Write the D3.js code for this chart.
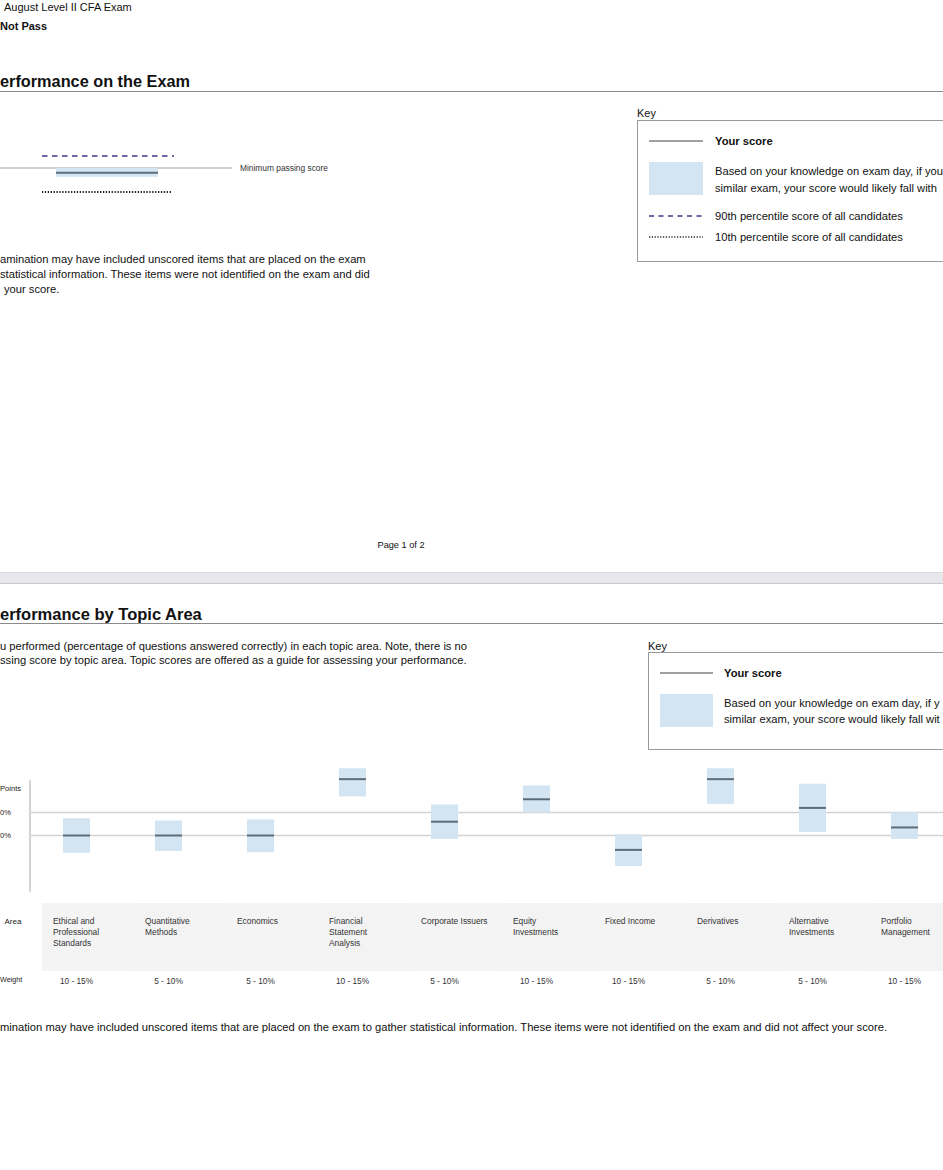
<!DOCTYPE html>
<html><head><meta charset="utf-8">
<script src="https://cdn.jsdelivr.net/npm/d3@7"></script>
<style>
html,body{margin:0;padding:0;background:#fff;}
svg{display:block;font-family:"Liberation Sans",Arial,Helvetica,sans-serif;}
</style></head>
<body>
<script>
// ---- Data ----
const topics = ["Ethical and|Professional|Standards","Quantitative|Methods","Economics","Financial|Statement|Analysis","Corporate Issuers","Equity|Investments","Fixed Income","Derivatives","Alternative|Investments","Portfolio|Management"];
const weights = ["10 - 15%","5 - 10%","5 - 10%","10 - 15%","5 - 10%","10 - 15%","10 - 15%","5 - 10%","5 - 10%","10 - 15%"];
const scores = [50, 50, 50, 99, 62, 81.5, 37.5, 99, 74, 57];
const rangeLow = [35, 36.5, 35.5, 84, 47, 70, 23.5, 77.5, 53, 47];
const rangeHigh = [65, 63, 64, 108.5, 77, 93.5, 51, 108.5, 95, 70];
const gridTicks = [70, 50];
const gridLabels = ["0%", "0%"];
const maxLabelValue = 91;
// top (overall exam) chart values, relative scale
const overall = {p90: 70, minPass: 55, score: 49, scoreLow: 44, scoreHigh: 55, p10: 25};

const W = 943, H = 1170;
const svg = d3.select("body").append("svg").attr("width", W).attr("height", H);
svg.append("rect").attr("width", W).attr("height", H).attr("fill", "#fff");

const txt = (x, y, s, size, opts = {}) => svg.append("text").attr("x", x).attr("y", y)
  .attr("font-size", size).attr("fill", opts.fill || "#111")
  .attr("font-weight", opts.bold ? "bold" : null)
  .attr("text-anchor", opts.anchor || "start").text(s);

// ---- Header ----
txt(4, 11, "August Level II CFA Exam", 11);
txt(0, 30, "Not Pass", 11, {bold: true});
txt(0, 87, "erformance on the Exam", 16.3, {bold: true});
svg.append("line").attr("x1", 0).attr("x2", W).attr("y1", 91.5).attr("y2", 91.5).attr("stroke", "#8a8a8a").attr("stroke-width", 1);

// ---- Overall chart ----
const ty = d3.scaleLinear().domain([0, 100]).range([212, 132]);
svg.append("line").attr("x1", 0).attr("x2", 232).attr("y1", ty(overall.minPass)).attr("y2", ty(overall.minPass))
  .attr("stroke", "#a0a0a0").attr("stroke-width", 1.2);
txt(240, ty(overall.minPass) + 2.5, "Minimum passing score", 8.4, {fill: "#333"});
svg.append("rect").attr("x", 56).attr("width", 102).attr("y", ty(overall.scoreHigh)).attr("height", ty(overall.scoreLow) - ty(overall.scoreHigh))
  .attr("fill", "#d3e5f3");
svg.append("line").attr("x1", 56).attr("x2", 158).attr("y1", ty(overall.score)).attr("y2", ty(overall.score))
  .attr("stroke", "#5f6b77").attr("stroke-width", 2);
svg.append("line").attr("x1", 42).attr("x2", 174).attr("y1", ty(overall.p90)).attr("y2", ty(overall.p90))
  .attr("stroke", "#6b6aa6").attr("stroke-width", 2).attr("stroke-dasharray", "5.5,4.5");
svg.append("line").attr("x1", 42).attr("x2", 172).attr("y1", ty(overall.p10)).attr("y2", ty(overall.p10))
  .attr("stroke", "#222").attr("stroke-width", 1.8).attr("stroke-dasharray", "1.3,1.6");

// ---- Key 1 ----
txt(637, 117, "Key", 11);
svg.append("rect").attr("x", 637.5).attr("y", 120.5).attr("width", 400).attr("height", 141).attr("fill", "none").attr("stroke", "#9a9a9a");
svg.append("line").attr("x1", 649).attr("x2", 703).attr("y1", 141).attr("y2", 141).attr("stroke", "#808080").attr("stroke-width", 1.5);
txt(715, 145, "Your score", 11.2, {bold: true});
svg.append("rect").attr("x", 649).attr("y", 162).attr("width", 54).attr("height", 33).attr("fill", "#d3e5f3");
txt(715, 175, "Based on your knowledge on exam day, if you", 11.2);
txt(715, 192, "similar exam, your score would likely fall with", 11.2);
svg.append("line").attr("x1", 649).attr("x2", 702).attr("y1", 216).attr("y2", 216).attr("stroke", "#6b6aa6").attr("stroke-width", 2).attr("stroke-dasharray", "5,4.5");
txt(715, 220, "90th percentile score of all candidates", 11.2);
svg.append("line").attr("x1", 649).attr("x2", 703).attr("y1", 237).attr("y2", 237).attr("stroke", "#222").attr("stroke-width", 1.6).attr("stroke-dasharray", "1.2,1.6");
txt(715, 241, "10th percentile score of all candidates", 11.2);

// ---- Paragraph 1 ----
txt(0, 263, "amination may have included unscored items that are placed on the exam", 11.2);
txt(0, 278, "statistical information. These items were not identified on the exam and did", 11.2);
txt(4, 293, "your score.", 11.2);

// ---- Page footer & divider ----
txt(401, 548, "Page 1 of 2", 9.2, {anchor: "middle"});
svg.append("rect").attr("x", 0).attr("y", 573).attr("width", W).attr("height", 11).attr("fill", "#e8e8ec");
svg.append("line").attr("x1", 0).attr("x2", W).attr("y1", 572.5).attr("y2", 572.5).attr("stroke", "#dcdce0");
svg.append("line").attr("x1", 0).attr("x2", W).attr("y1", 583.5).attr("y2", 583.5).attr("stroke", "#c9c9cd");

// ---- Section 2 header ----
txt(0, 620, "erformance by Topic Area", 16.5, {bold: true});
svg.append("line").attr("x1", 0).attr("x2", W).attr("y1", 623.5).attr("y2", 623.5).attr("stroke", "#8a8a8a").attr("stroke-width", 1);
txt(0, 650, "u performed (percentage of questions answered correctly) in each topic area. Note, there is no", 11.2);
txt(0, 664, "ssing score by topic area. Topic scores are offered as a guide for assessing your performance.", 11.2);

// ---- Key 2 ----
txt(648, 650, "Key", 11);
svg.append("rect").attr("x", 648.5).attr("y", 652.5).attr("width", 400).attr("height", 97).attr("fill", "none").attr("stroke", "#9a9a9a");
svg.append("line").attr("x1", 660).attr("x2", 713).attr("y1", 673).attr("y2", 673).attr("stroke", "#808080").attr("stroke-width", 1.5);
txt(724, 677, "Your score", 11.2, {bold: true});
svg.append("rect").attr("x", 660).attr("y", 694).attr("width", 53).attr("height", 33).attr("fill", "#d3e5f3");
txt(724, 707, "Based on your knowledge on exam day, if y", 11.2);
txt(724, 723, "similar exam, your score would likely fall wit", 11.2);

// ---- Topic chart ----
const x = d3.scaleBand().domain(d3.range(topics.length)).range([30.5, 950.5]).padding(0);
const y = d3.scaleLinear().domain([0, 100]).range([893, 778]);
const boxW = 27;

// axis line
svg.append("line").attr("x1", 30).attr("x2", 30).attr("y1", y(98)).attr("y2", y(1)).attr("stroke", "#b5b5b5").attr("stroke-width", 1.2);
// grid lines
svg.selectAll(".grid").data(gridTicks).enter().append("line")
  .attr("x1", 30).attr("x2", W).attr("y1", d => y(d)).attr("y2", d => y(d))
  .attr("stroke", "#d2d2d2").attr("stroke-width", 1.5);
svg.selectAll(".glab").data(gridTicks).enter().append("text")
  .attr("x", 0).attr("y", d => y(d) + 2.8).attr("font-size", 7.6).attr("fill", "#222")
  .text((d, i) => gridLabels[i]);
svg.append("text").attr("x", 0).attr("y", y(maxLabelValue) + 2.8).attr("font-size", 7.6).attr("fill", "#222").text("Points");

// boxes
const cx = i => x(i) + x.bandwidth() / 2;
svg.selectAll(".rng").data(scores).enter().append("rect")
  .attr("x", (d, i) => cx(i) - boxW / 2).attr("width", boxW)
  .attr("y", (d, i) => y(rangeHigh[i])).attr("height", (d, i) => y(rangeLow[i]) - y(rangeHigh[i]))
  .attr("fill", "#d3e5f3");
svg.selectAll(".sc").data(scores).enter().append("line")
  .attr("x1", (d, i) => cx(i) - boxW / 2).attr("x2", (d, i) => cx(i) + boxW / 2)
  .attr("y1", d => y(d)).attr("y2", d => y(d))
  .attr("stroke", "#5f6b77").attr("stroke-width", 2);

// category label band
svg.selectAll(".cell").data(topics).enter().append("rect")
  .attr("x", (d, i) => x(i) + 11.5).attr("width", x.bandwidth())
  .attr("y", 903).attr("height", 68)
  .attr("fill", (d, i) => i % 2 ? "#f3f3f3" : "#f4f4f4");
svg.selectAll(".cat").data(topics).enter().append("text")
  .attr("x", (d, i) => x(i) + 22.5).attr("y", 924).attr("font-size", 8.4).attr("fill", "#333")
  .each(function(d) {
    const t = d3.select(this);
    d.split("|").forEach((s, k) => t.append("tspan").attr("x", t.attr("x")).attr("dy", k ? 11.2 : 0).text(s));
  });
svg.selectAll(".wt").data(weights).enter().append("text")
  .attr("x", (d, i) => cx(i)).attr("y", 984).attr("text-anchor", "middle").attr("font-size", 8.3).attr("fill", "#333")
  .text(d => d);
txt(4.5, 924, "Area", 8, {fill: "#222"});
txt(0, 982, "Weight", 7.2, {fill: "#222"});

// footnote
txt(0, 1031, "mination may have included unscored items that are placed on the exam to gather statistical information. These items were not identified on the exam and did not affect your score.", 11.2);
</script>
</body></html>
